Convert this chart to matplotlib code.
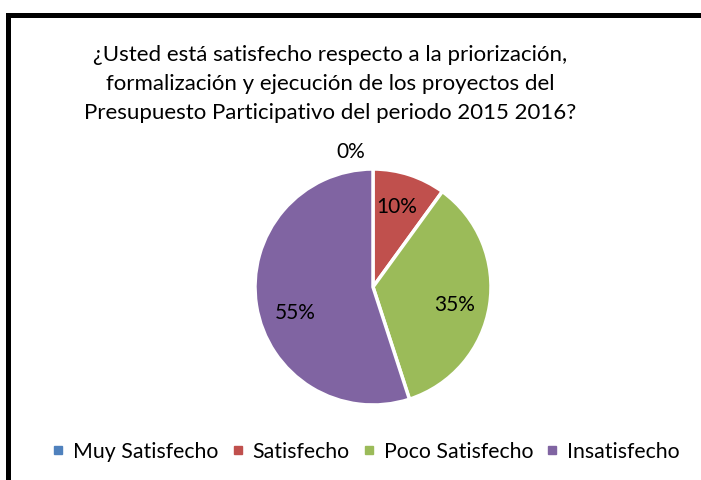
import numpy as np
import matplotlib.pyplot as plt
from matplotlib.lines import Line2D

plt.rcParams['font.family'] = ['Lato', 'DejaVu Sans']

categories = ['Muy Satisfecho', 'Satisfecho', 'Poco Satisfecho', 'Insatisfecho']
values = [0, 10, 35, 55]
colors = ['#4F81BD', '#C0504D', '#9BBB59', '#8064A2']
title = ('¿Usted está satisfecho respecto a la priorización,\n'
         'formalización y ejecución de los proyectos del\n'
         'Presupuesto Participativo del periodo 2015 2016?')

W, H = 701, 481
fig = plt.figure(figsize=(W / 100, H / 100), dpi=100)

# pie placement in pixels
cx, cy, r = 373, 288, 118
ax = fig.add_axes([(cx - r) / W, 1 - (cy + r) / H, 2 * r / W, 2 * r / H])
wedges, texts, autotexts = ax.pie(values, colors=colors, startangle=90, counterclock=False,
                                  autopct='%1.0f%%', pctdistance=0.7,
                                  wedgeprops=dict(edgecolor='white', linewidth=2.5),
                                  textprops=dict(fontsize=15, color='black'))
# 0% label sits outside the pie
autotexts[0].set_position((-0.19, 1.15))
autotexts[1].set_position((0.2, 0.69))
autotexts[2].set_position((0.69, -0.14))
autotexts[3].set_position((-0.66, -0.21))
ax.set_xlim(-1, 1)
ax.set_ylim(-1, 1)
ax.set_aspect('equal')

fig.text(330 / W, 1 - 84 / H, title, ha='center', va='center', fontsize=16,
         linespacing=1.55)

# frame lines (left and top only)
lw = 5 * 72 / 100
fig.add_artist(Line2D([7.5 / W, 7.5 / W], [0, 1 - 16 / H], color='black', lw=lw,
                      transform=fig.transFigure, solid_capstyle='projecting'))
fig.add_artist(Line2D([7.5 / W, 1], [1 - 16 / H, 1 - 16 / H], color='black', lw=lw,
                      transform=fig.transFigure, solid_capstyle='projecting'))

handles = [Line2D([], [], marker='s', linestyle='', markersize=6, color=c) for c in colors]
fig.legend(handles, categories, loc='center', bbox_to_anchor=(366 / W, 1 - 452 / H),
           ncol=4, frameon=False, fontsize=15.3, handlelength=0.6, handletextpad=0.4,
           columnspacing=0.6)

fig.savefig('out.png', dpi=100)
